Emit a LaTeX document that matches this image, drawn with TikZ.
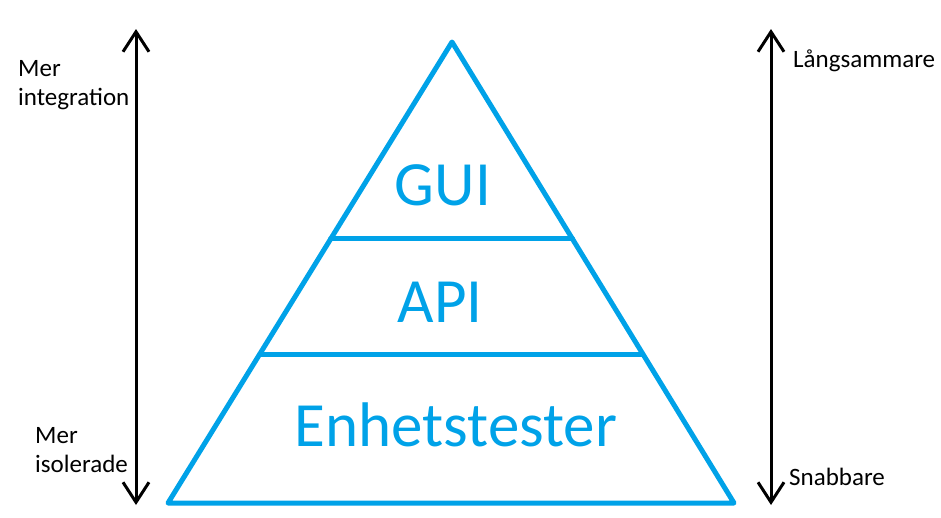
\documentclass[tikz,border=0pt]{standalone}
\usepackage{fontspec}
\setmainfont{Carlito}
\usetikzlibrary{arrows.meta,calc}
\definecolor{pyrblue}{RGB}{0,162,232}
\tikzset{
  pyr/.style={draw=pyrblue,line width=5pt,line join=round,line cap=round},
  layer/.style={font=\fontsize{63}{65}\selectfont,text=pyrblue,anchor=base,inner sep=0pt},
  side/.style={font=\fontsize{25}{29}\selectfont,align=left,inner sep=0pt,anchor=base west},
  axis/.style={draw=black,line width=3pt,{Straight Barb[length=20pt,width=26pt]}-{Straight Barb[length=20pt,width=26pt]}}
}
\begin{document}
\begin{tikzpicture}[x=1pt,y=-1pt]
\useasboundingbox (0,0) rectangle (941,517);
% pyramid
\coordinate (apex) at (452,42);
\coordinate (bl) at (168,503);
\coordinate (br) at (734,503);
\coordinate (g1) at ($(apex)!0.4273!(bl)$);
\coordinate (g2) at ($(apex)!0.4273!(br)$);
\coordinate (a1) at ($(apex)!0.6768!(bl)$);
\coordinate (a2) at ($(apex)!0.6768!(br)$);
\draw[pyr] (apex) -- (bl) -- (br) -- cycle;
\draw[pyr] (g1) -- (g2);
\draw[pyr] (a1) -- (a2);
\node[layer] (gui) at (443,205) {GUI};
\node[layer] (api) at (440,322) {API};
\node[layer] (enh) at (456,446) {Enhetstester};
% axes
\coordinate (lt) at (136,29);
\coordinate (lb) at (136,505);
\coordinate (rt) at (771,29);
\coordinate (rb) at (771,505);
\draw[axis] (lb) -- (lt);
\draw[axis] (rb) -- (rt);
% side labels
\node[side] (mi) at (18,105) {Mer\\integration};
\node[side] (mis) at (35,472) {Mer\\isolerade};
\node[side] (lang) at (793,67) {Långsammare};
\node[side] (snab) at (789,485) {Snabbare};
\end{tikzpicture}
\end{document}
